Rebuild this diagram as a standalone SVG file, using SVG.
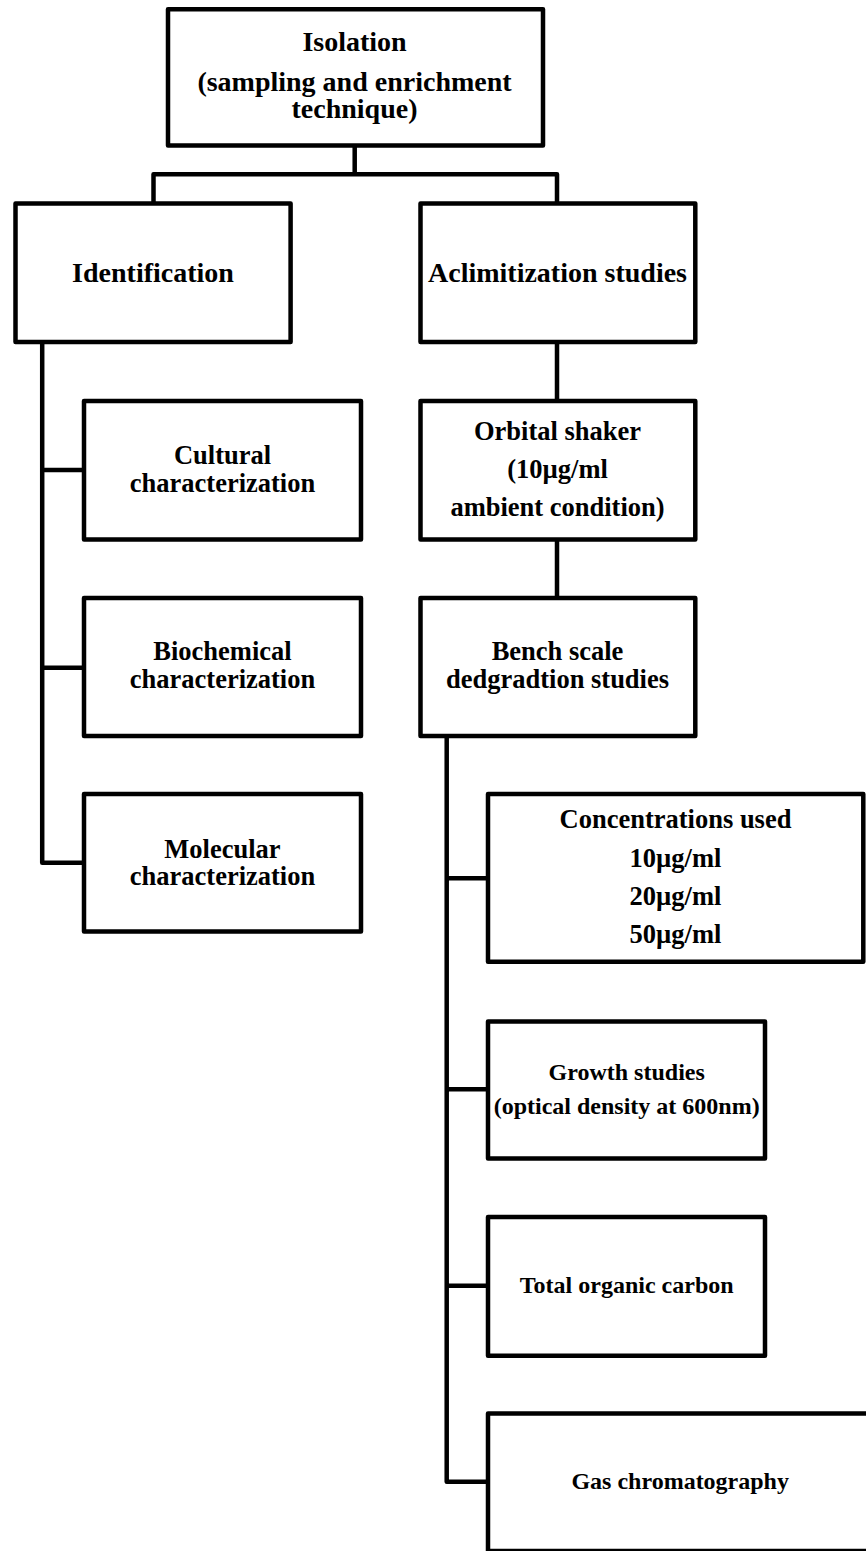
<svg xmlns="http://www.w3.org/2000/svg" width="866" height="1551" viewBox="0 0 866 1551">
<style>
.box{fill:#fff;stroke:#000;stroke-width:4.5;stroke-linejoin:round}
.ln{fill:none;stroke:#000;stroke-width:4.5;stroke-linejoin:round}
text{font-family:"Liberation Serif","Times New Roman",serif;font-weight:bold;fill:#000;text-anchor:middle}
.t28{font-size:28px}
.t26{font-size:26.5px}
.t24{font-size:24px}
</style>
<rect width="866" height="1551" fill="#fff"/>
<g id="connectors">
<path class="ln" d="M354.7 145.5V174.3M153.5 203.5V174.3H557V203.5"/>
<path class="ln" d="M557 342V401M557 539.5V598"/>
<path class="ln" d="M42.2 342V862.7H84M42.2 470H84M42.2 667.7H84"/>
<path class="ln" d="M446.7 736V1481.7H488M446.7 878.3H488M446.7 1089.3H488M446.7 1285.7H488"/>
</g>
<g id="isolation">
<rect class="box" x="168" y="9.2" width="375" height="136.3"/>
<text class="t28" x="354.5" y="50.7">Isolation</text>
<text class="t28" x="354.5" y="90.7">(sampling and enrichment</text>
<text class="t28" x="354.5" y="118.3">technique)</text>
</g>
<g id="identification">
<rect class="box" x="15.5" y="203.5" width="275.1" height="138.5"/>
<text class="t28" x="153" y="282">Identification</text>
</g>
<g id="aclimitization">
<rect class="box" x="420.5" y="203.5" width="274.8" height="138.5"/>
<text class="t28" x="557.5" y="282">Aclimitization studies</text>
</g>
<g id="cultural">
<rect class="box" x="84" y="401" width="277" height="138.5"/>
<text class="t26" x="222.5" y="464">Cultural</text>
<text class="t26" x="222.5" y="491.7">characterization</text>
</g>
<g id="biochemical">
<rect class="box" x="84" y="598" width="277" height="138"/>
<text class="t26" x="222.5" y="660">Biochemical</text>
<text class="t26" x="222.5" y="688">characterization</text>
</g>
<g id="molecular">
<rect class="box" x="84" y="794" width="277" height="137.5"/>
<text class="t26" x="222.5" y="858.3">Molecular</text>
<text class="t26" x="222.5" y="885">characterization</text>
</g>
<g id="orbital">
<rect class="box" x="420.5" y="401" width="274.8" height="138.5"/>
<text class="t26" x="557.5" y="440">Orbital shaker</text>
<text class="t26" x="557.5" y="477.7">(10µg/ml</text>
<text class="t26" x="557.5" y="516">ambient condition)</text>
</g>
<g id="bench">
<rect class="box" x="420.5" y="598" width="274.8" height="138"/>
<text class="t26" x="557.5" y="660">Bench scale</text>
<text class="t26" x="557.5" y="688">dedgradtion studies</text>
</g>
<g id="concentrations">
<rect class="box" x="488" y="794" width="375.3" height="167.7"/>
<text class="t26" x="675.5" y="828.3">Concentrations used</text>
<text class="t26" x="675.5" y="866.7">10µg/ml</text>
<text class="t26" x="675.5" y="905">20µg/ml</text>
<text class="t26" x="675.5" y="942.7">50µg/ml</text>
</g>
<g id="growth">
<rect class="box" x="488" y="1021.5" width="277" height="137"/>
<text class="t24" x="626.7" y="1080">Growth studies</text>
<text class="t24" x="626.7" y="1114.3">(optical density at 600nm)</text>
</g>
<g id="toc">
<rect class="box" x="488" y="1217" width="277" height="138.7"/>
<text class="t24" x="626.7" y="1293.3">Total organic carbon</text>
</g>
<g id="gas">
<rect class="box" x="488" y="1413.5" width="385" height="137.5"/>
<text class="t24" x="680.2" y="1489.3">Gas chromatography</text>
</g>
</svg>
